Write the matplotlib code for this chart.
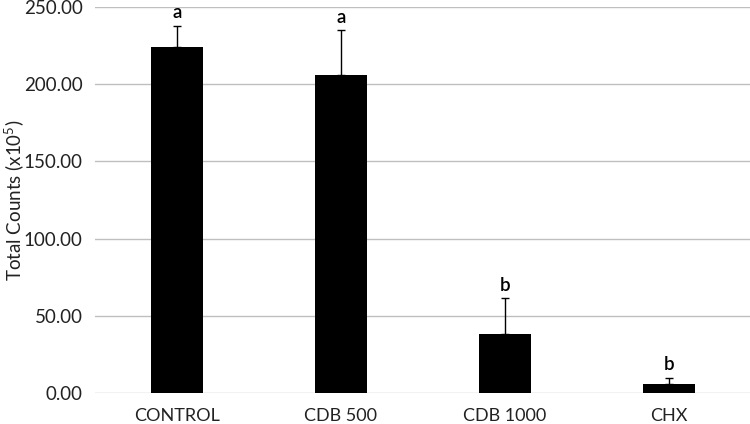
import matplotlib
matplotlib.use("Agg")
import matplotlib.pyplot as plt
import numpy as np

categories = ["CONTROL", "CDB 500", "CDB 1000", "CHX"]
means = [224.0, 206.0, 38.5, 6.0]
errors = [14.0, 29.0, 23.0, 4.0]
letters = ["a", "a", "b", "b"]
yticks = [0, 50, 100, 150, 200, 250]

plt.rcParams['font.family'] = ['Lato', 'DejaVu Sans']
plt.rcParams['mathtext.default'] = 'regular'

fig = plt.figure(figsize=(7.5, 4.24), dpi=100)
ax = fig.add_axes([95/750, 1 - 393/424, 656/750, 386/424])

x = np.arange(len(categories))
ax.bar(x, means, width=0.32, color='black', zorder=3)
ax.errorbar(x, means, yerr=[np.zeros(len(errors)), errors], fmt='none',
            ecolor='black', elinewidth=1, capsize=3, capthick=1, zorder=4)
for xi, m, e, l in zip(x, means, errors, letters):
    ax.annotate(l, (xi, m + e), xytext=(0, 3), textcoords='offset points',
                ha='center', va='bottom', fontsize=13.5, fontweight='semibold')

ax.set_xlim(-0.5, len(categories) - 0.5)
ax.set_ylim(0, 250)
ax.set_yticks(yticks)
ax.set_yticklabels([f"{v:.2f}" for v in yticks], fontsize=13.5, color='#222222')
ax.set_xticks(x)
ax.set_xticklabels(categories, fontsize=13, color='#222222')
ax.tick_params(length=0)
ax.tick_params(axis='y', pad=9)
ax.tick_params(axis='x', pad=11)
ax.yaxis.grid(True, color='#bfbfbf', linewidth=1, zorder=0)
for s in ax.spines.values():
    s.set_visible(False)
ax.set_ylabel(r"Total Counts (x10$^{5}$)", fontsize=13.5, color='#222222',
              va='center')
ax.yaxis.set_label_coords((14 - 95) / 656, (393 - 200) / 386)

fig.savefig("out.png", dpi=100)
